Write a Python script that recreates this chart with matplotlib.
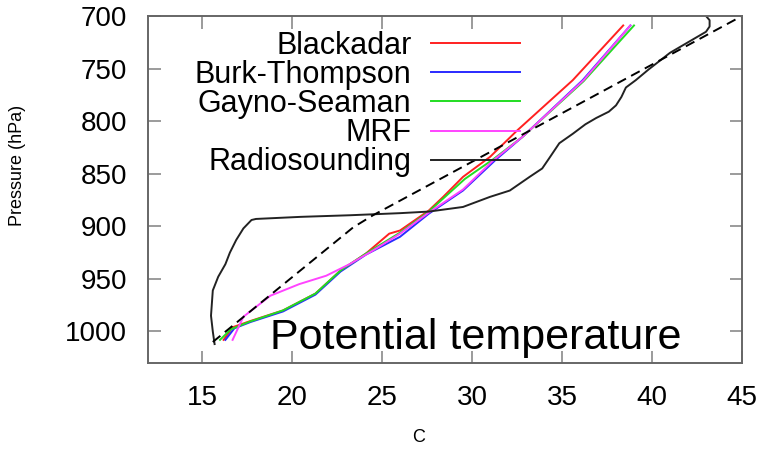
import matplotlib
matplotlib.use("Agg")
import matplotlib.pyplot as plt

plt.rcParams["font.family"] = ["Liberation Sans", "DejaVu Sans"]

# temperature (C) / pressure (hPa) pairs
blackadar_t = [16.2, 16.7, 17.7, 19.5, 21.3, 22.7, 24.1, 25.4, 26.0, 27.6, 28.4, 29.5, 31.0, 32.5, 35.6, 38.4]
blackadar_p = [1008, 996, 990, 980, 964, 942, 926, 907, 904, 885, 872, 853, 834, 809, 761, 709]

burk_t = [16.3, 16.8, 17.7, 19.5, 21.3, 22.7, 24.1, 26.0, 27.6, 29.5, 31.3, 32.8, 36.15, 38.8]
burk_p = [1008, 997, 991, 981, 965, 943, 927, 910, 888, 866, 837, 815, 761, 709]

gayno_t = [16.0, 16.6, 17.6, 19.5, 21.3, 22.7, 24.1, 26.0, 27.6, 28.5, 29.6, 31.2, 32.8, 36.2, 39.0]
gayno_p = [1008, 998, 991, 980, 964, 942, 926, 906, 886, 872, 855, 836, 815, 762, 709]

mrf_t = [16.7, 17.3, 18.8, 20.4, 21.9, 23.2, 24.5, 26.0, 27.6, 29.5, 31.2, 32.8, 36.2, 38.8]
mrf_p = [1008, 986, 966, 955, 947, 936, 923, 907, 887, 865, 837, 815, 761, 709]

sounding_t = [15.7, 15.6, 15.5, 15.6, 15.9, 16.3, 16.55, 16.9, 17.3, 17.75, 18.0, 20.5, 23.2,
              26.0, 27.6, 29.5, 31.0, 32.1, 33.2, 33.9, 34.3, 34.85, 35.6, 36.3, 36.9, 37.6,
              38.0, 38.3, 38.55, 39.1, 39.8, 41.0, 41.9, 43.0, 43.2, 43.2, 43.0]
sounding_p = [1012, 1000, 985, 961, 948, 936, 925, 913, 902, 894, 893, 891, 889.5,
              887.5, 886, 881.6, 872, 866, 853, 845, 835, 821, 812, 803, 797, 791,
              785, 777, 768, 761, 751, 735, 726, 715, 710, 704, 700]

adiabat_t = [15.6, 23.4, 24.5, 45.0]
adiabat_p = [1010, 901, 889.5, 700]

series = [
    ("Blackadar", blackadar_t, blackadar_p, "#ff2020", "-"),
    ("Burk-Thompson", burk_t, burk_p, "#2a2aff", "-"),
    ("Gayno-Seaman", gayno_t, gayno_p, "#22dd22", "-"),
    ("MRF", mrf_t, mrf_p, "#ff44ff", "-"),
    ("Radiosounding", sounding_t, sounding_p, "#222222", "-"),
]

fig = plt.figure(figsize=(7.6, 4.49), dpi=100)
ax = fig.add_axes([148 / 760, 1 - 363 / 449, 594 / 760, 347 / 449])

for name, t, p, color, ls in series:
    ax.plot(t, p, color=color, linestyle=ls, linewidth=1.4, label=name)

ax.plot(adiabat_t, adiabat_p, color="black", linestyle=(0, (5, 3)), linewidth=1.4)

ax.set_xlim(12, 45)
ax.set_ylim(1030, 700)
ax.set_xticks([15, 20, 25, 30, 35, 40, 45])
ax.set_yticks([700, 750, 800, 850, 900, 950, 1000])

ax.tick_params(axis="both", direction="in", length=9, width=1.2, color="#8a8a8a",
               top=True, right=True, labelsize=20)
ax.tick_params(axis="y", pad=15)
ax.tick_params(axis="x", pad=16)
for s in ax.spines.values():
    s.set_color("#666666")
    s.set_linewidth(1.4)

ax.set_xlabel("C", fontsize=13)
ax.set_ylabel("Pressure (hPa)", fontsize=13)
ax.xaxis.set_label_coords(0.455, -0.215)
ax.xaxis.label.set_va("center")
ax.yaxis.set_label_coords(-0.219, 0.57)
ax.yaxis.label.set_va("center")

ax.legend(loc="upper right", bbox_to_anchor=(520 / 760, 1 - 31 / 449),
          bbox_transform=fig.transFigure, frameon=False, markerfirst=False,
          fontsize=22, handlelength=2.9, handletextpad=0.65, labelspacing=-0.03,
          borderpad=0, borderaxespad=0)

ax.text(270 / 760, 1 - 338 / 449, "Potential temperature", transform=fig.transFigure,
        fontsize=31, ha="left", va="center")

fig.savefig("out.png", dpi=100)
